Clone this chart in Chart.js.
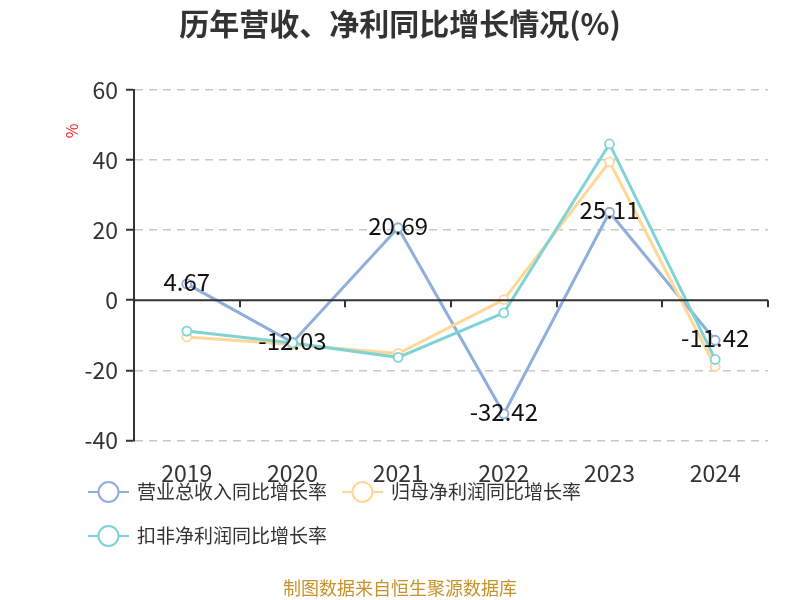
<!DOCTYPE html>
<html>
<head>
<meta charset="utf-8">
<script src="https://cdn.jsdelivr.net/npm/chart.js@4/dist/chart.umd.min.js"></script>
<style>
html,body{margin:0;padding:0;background:#fff;}
#wrap{width:800px;height:600px;position:relative;}
</style>
</head>
<body>
<div id="wrap"><canvas id="c" width="800" height="600"></canvas></div>
<script>
const categories = ['2019','2020','2021','2022','2023','2024'];
const revenueGrowth = [4.67, -12.03, 20.69, -32.42, 25.11, -11.42];
const netProfitGrowth = [-10.5, -12.6, -15.2, 0.2, 39.5, -18.9];
const deductedProfitGrowth = [-8.8, -12.2, -16.3, -3.6, 44.6, -16.9];
const seriesNames = ['营业总收入同比增长率','归母净利润同比增长率','扣非净利润同比增长率'];
const yTicks = [-40, -20, 0, 20, 40, 60];

const colors = ['#8eaedc', '#ffd796', '#7fd3d5'];
const FONT = '"Noto Sans CJK SC","Noto Sans",sans-serif';

const overlay = {
  id: 'overlay',
  afterDraw(chart) {
    const ctx = chart.ctx;
    const ys = chart.scales.y;
    const area = chart.chartArea;
    ctx.save();
    const y0 = ys.getPixelForValue(0);
    ctx.strokeStyle = '#333';
    ctx.lineWidth = 2;
    ctx.beginPath();
    ctx.moveTo(area.left, y0);
    ctx.lineTo(area.right, y0);
    ctx.stroke();
    const step = (area.right - area.left) / categories.length;
    ctx.beginPath();
    for (let i = 0; i <= categories.length; i++) {
      const x = Math.round(area.left + step * i);
      ctx.moveTo(x, y0);
      ctx.lineTo(x, y0 + 7);
    }
    ctx.stroke();
    ctx.restore();
  },
  afterDatasetsDraw(chart) {
    const ctx = chart.ctx;
    ctx.save();
    const meta = chart.getDatasetMeta(0);
    ctx.font = '24px ' + FONT;
    ctx.fillStyle = '#111';
    ctx.textAlign = 'center';
    ctx.textBaseline = 'middle';
    meta.data.forEach((pt, i) => {
      ctx.fillText(revenueGrowth[i].toFixed(2), pt.x, pt.y - 2);
    });
    ctx.font = 'bold 30px ' + FONT;
    ctx.fillStyle = '#333';
    ctx.fillText('历年营收、净利同比增长情况(%)', 400, 24);
    ctx.save();
    ctx.translate(72, 131);
    ctx.rotate(-Math.PI / 2);
    ctx.font = '16px ' + FONT;
    ctx.fillStyle = '#e8262b';
    ctx.fillText('%', 0, 0);
    ctx.restore();
    const items = [[88, 492], [342, 492], [88, 536]];
    items.forEach((p, i) => {
      const [x, y] = p;
      ctx.strokeStyle = colors[i];
      ctx.lineWidth = 2;
      ctx.beginPath();
      ctx.moveTo(x, y); ctx.lineTo(x + 41, y);
      ctx.stroke();
      ctx.beginPath();
      ctx.arc(x + 20.5, y, 10, 0, Math.PI * 2);
      ctx.fillStyle = '#fff';
      ctx.fill();
      ctx.stroke();
      ctx.font = '19px ' + FONT;
      ctx.fillStyle = '#333';
      ctx.textAlign = 'left';
      ctx.fillText(seriesNames[i], x + 49, y);
    });
    ctx.font = '18px ' + FONT;
    ctx.fillStyle = '#c8922a';
    ctx.textAlign = 'center';
    ctx.fillText('制图数据来自恒生聚源数据库', 400, 588);
    ctx.restore();
  }
};

function ds(label, data, color, order) {
  return {
    label, data, order,
    borderColor: color,
    backgroundColor: '#fff',
    borderWidth: 3,
    pointRadius: 4.5,
    pointBorderWidth: 1.8,
    pointBackgroundColor: '#fff',
    pointBorderColor: color,
    tension: 0,
    fill: false
  };
}

new Chart(document.getElementById('c'), {
  type: 'line',
  data: {
    labels: categories,
    datasets: [
      ds(seriesNames[0], revenueGrowth, colors[0], 2),
      ds(seriesNames[1], netProfitGrowth, colors[1], 1),
      ds(seriesNames[2], deductedProfitGrowth, colors[2], 0)
    ]
  },
  options: {
    responsive: false,
    animation: false,
    layout: { padding: { top: 90, right: 32, bottom: 102, left: 0 } },
    plugins: { legend: { display: false }, tooltip: { enabled: false }, title: { display: false } },
    scales: {
      x: {
        offset: true,
        grid: { display: false },
        border: { display: false },
        ticks: { font: { size: 23, family: FONT }, color: '#333', padding: 11 }
      },
      y: {
        min: -40, max: 60,
        afterBuildTicks(scale) { scale.ticks = yTicks.map(v => ({ value: v })); },
        afterFit(scale) { scale.width = 134; },
        grid: {
          color: ctx => ctx.tick && ctx.tick.value === 0 ? 'rgba(0,0,0,0)' : '#c8c8c8',
          lineWidth: 1.5,
          tickColor: '#333',
          tickLength: 8,
          tickWidth: 2,
          tickBorderDash: [],
          drawTicks: true
        },
        border: { display: true, color: '#333', width: 2, dash: [8, 6] },
        ticks: { font: { size: 23, family: FONT }, color: '#333', padding: 8 }
      }
    }
  },
  plugins: [overlay]
});
</script>
</body>
</html>
